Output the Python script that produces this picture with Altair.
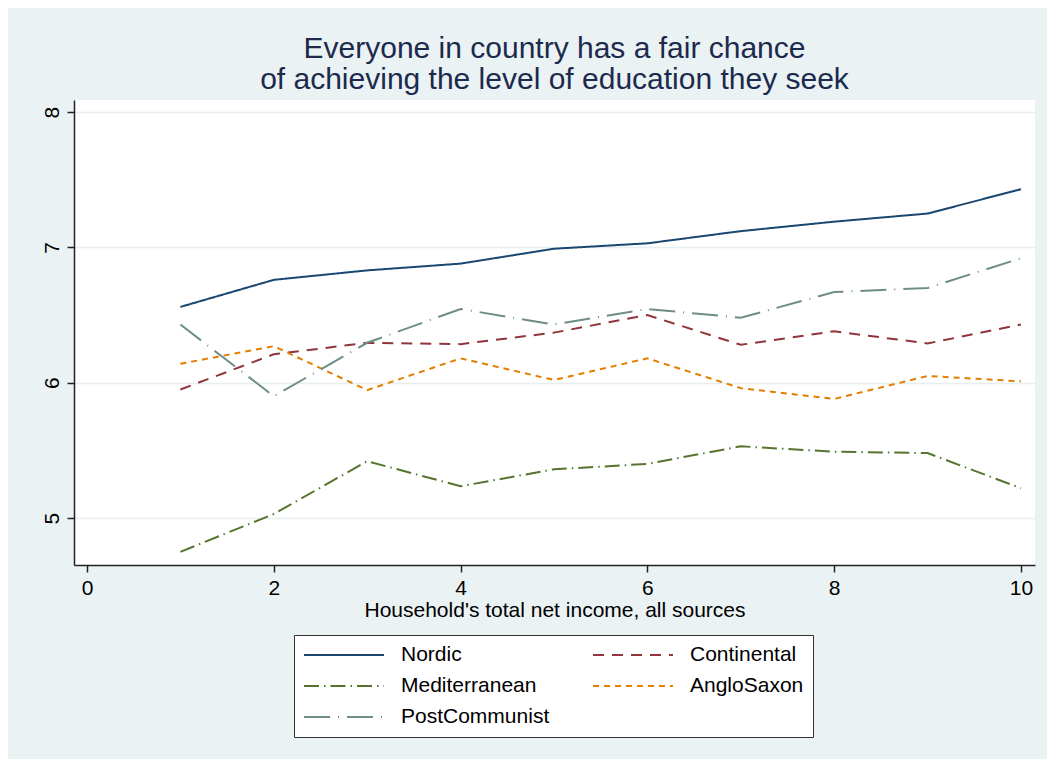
import altair as alt
import pandas as pd

income = [1, 2, 3, 4, 5, 6, 7, 8, 9, 10]
nordic = [6.56, 6.76, 6.83, 6.88, 6.99, 7.03, 7.12, 7.19, 7.25, 7.43]
continental = [5.95, 6.21, 6.295, 6.285, 6.37, 6.50, 6.28, 6.38, 6.29, 6.43]
mediterranean = [4.75, 5.03, 5.42, 5.235, 5.36, 5.40, 5.53, 5.49, 5.48, 5.22]
anglosaxon = [6.14, 6.27, 5.945, 6.18, 6.02, 6.18, 5.96, 5.88, 6.05, 6.01]
postcommunist = [6.43, 5.90, 6.295, 6.545, 6.43, 6.545, 6.48, 6.67, 6.70, 6.92]

groups = ["Nordic", "Continental", "Mediterranean", "AngloSaxon", "PostCommunist"]
series = [nordic, continental, mediterranean, anglosaxon, postcommunist]
colors = ["#1a476f", "#90353b", "#55752f", "#e37e00", "#6e8e84"]
dashes = [[1, 0], [11, 8], [15, 5, 1.5, 5], [6, 5], [26, 8, 1, 8]]

x_ticks = [0, 2, 4, 6, 8, 10]
y_ticks = [5, 6, 7, 8]

rows = []
for g, vals in zip(groups, series):
    for xv, yv in zip(income, vals):
        rows.append({"income": xv, "value": yv, "group": g})
df = pd.DataFrame(rows)

FONT = "Liberation Sans"

legend = alt.Legend(
    title=None, orient="none", legendX=220, legendY=535, columns=2,
    direction="horizontal",
    symbolType="stroke", symbolSize=6400, symbolStrokeWidth=2,
    labelFontSize=21, labelFont=FONT, labelColor="black", labelOffset=16,
    columnPadding=42, rowPadding=9, clipHeight=22, padding=9,
    strokeColor="#333333", fillColor="white", labelLimit=300,
)

chart = alt.Chart(df).mark_line(strokeWidth=2).encode(
    x=alt.X("income:Q",
            scale=alt.Scale(domain=[-0.139, 10.15], nice=False, zero=False),
            axis=alt.Axis(values=x_ticks, title="Household's total net income, all sources",
                          grid=False, tickSize=7, labelFontSize=21, titleFontSize=21,
                          labelPadding=5, titlePadding=1, labelFlush=False)),
    y=alt.Y("value:Q",
            scale=alt.Scale(domain=[4.653, 8.089], nice=False, zero=False),
            axis=alt.Axis(values=y_ticks, title=None, grid=True, gridColor="#e6eef0",
                          gridWidth=1.5, tickSize=7, labelFontSize=21, labelAngle=270,
                          labelPadding=5, labelFlush=False)),
    color=alt.Color("group:N", scale=alt.Scale(domain=groups, range=colors), legend=legend),
    strokeDash=alt.StrokeDash("group:N", scale=alt.Scale(domain=groups, range=dashes), legend=legend),
    order=alt.Order("income:Q"),
).properties(
    width=961, height=465,
    autosize=alt.AutoSizeParams(type="none"),
    padding={"left": 66, "top": 92, "right": 12, "bottom": 194},
    title=alt.TitleParams(
        ["Everyone in country has a fair chance", "of achieving the level of education they seek"],
        fontSize=30, lineHeight=31, font=FONT, color="#1c2a4d", fontWeight="normal",
        anchor="middle", frame="group", offset=5),
).configure(
    background="#eaf2f3",
).configure_view(
    stroke=None, fill="white",
).configure_axis(
    labelFont=FONT, titleFont=FONT, labelColor="black", titleColor="black",
    titleFontWeight="normal", domainColor="#222222", domainWidth=1.5,
    tickColor="#222222", tickWidth=1.5,
)

chart.save("out.html", embed_options={"renderer": "svg", "actions": False})
